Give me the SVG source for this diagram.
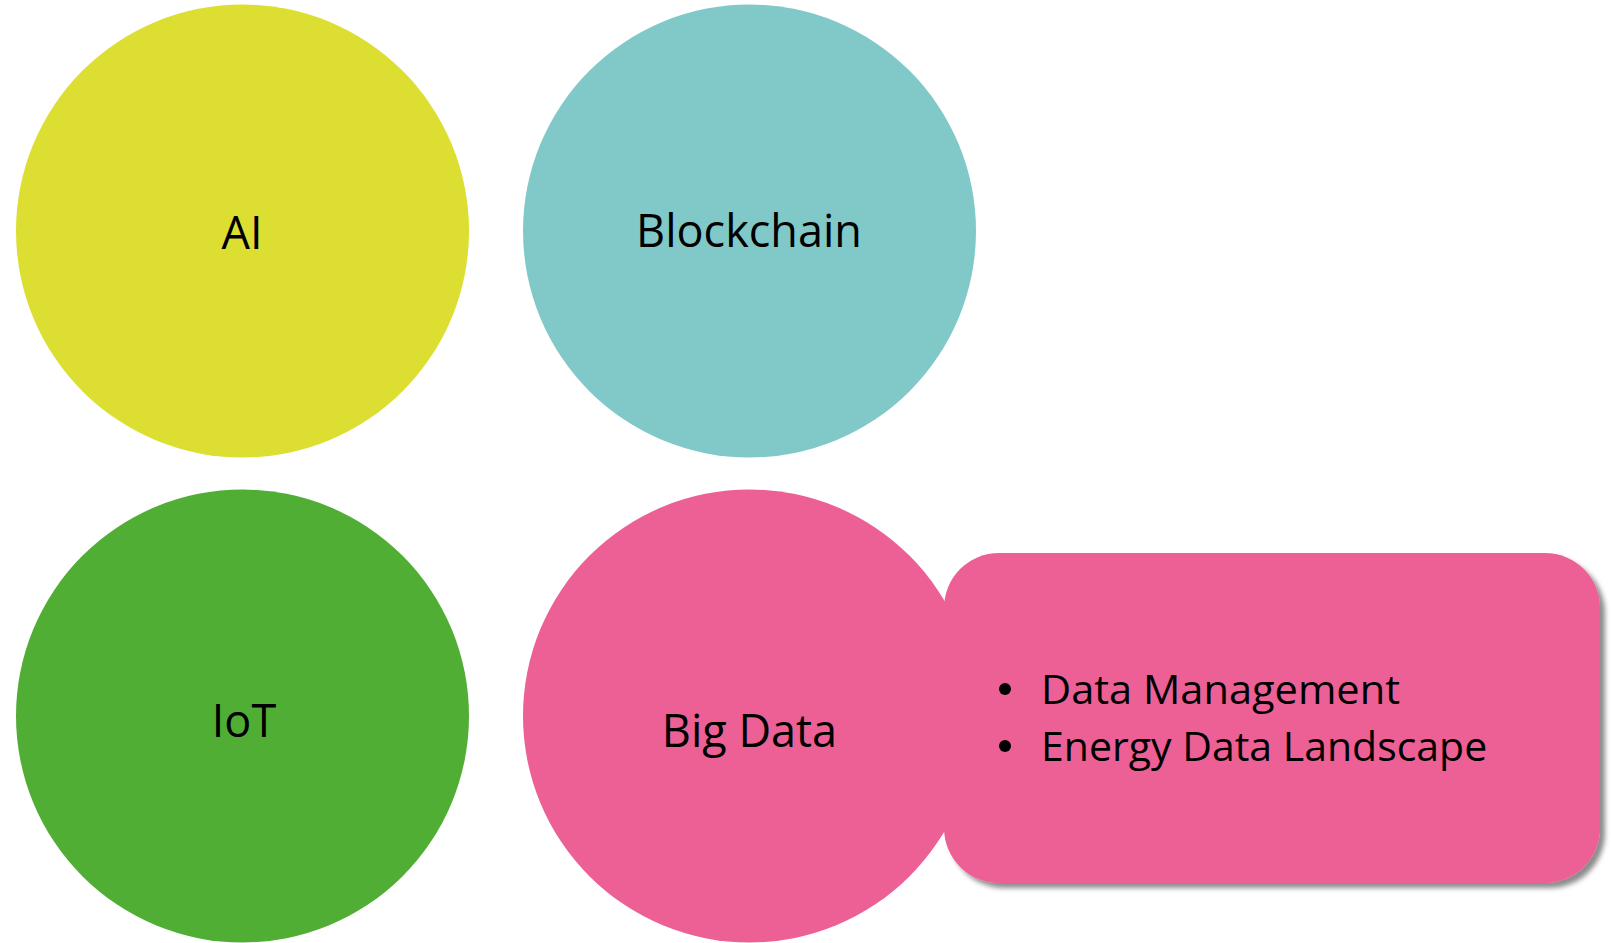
<svg xmlns="http://www.w3.org/2000/svg" width="1611" height="943" viewBox="0 0 1611 943">
  <defs>
    <filter id="shadow" x="-5%" y="-5%" width="115%" height="120%">
      <feDropShadow dx="5" dy="5" stdDeviation="2.5" flood-color="#000" flood-opacity="0.45"/>
    </filter>
  </defs>
  <style>
    .lbl { font-family: "Open Sans", "Liberation Sans", sans-serif; font-size: 45px; fill: #000; text-anchor: middle; }
    .bul { font-family: "Open Sans", "Liberation Sans", sans-serif; font-size: 41px; fill: #000; }
    .dot { fill: #000; }
    .pink { fill: #EC6096; }
  </style>
  <rect width="1611" height="943" fill="#fff"/>
  <g id="ai">
    <circle cx="242.5" cy="231" r="226.5" fill="#DCDE32"/>
    <text class="lbl" x="242" y="249">AI</text>
  </g>
  <g id="blockchain">
    <circle cx="749.5" cy="231" r="226.5" fill="#81C9C8"/>
    <text class="lbl" x="749" y="247">Blockchain</text>
  </g>
  <g id="iot">
    <circle cx="242.5" cy="716" r="226.5" fill="#51AE35"/>
    <text class="lbl" x="244" y="737">IoT</text>
  </g>
  <g id="bigdata">
    <circle class="pink" cx="749.5" cy="716" r="226.5"/>
    <text class="lbl" x="749.5" y="747">Big Data</text>
  </g>
  <g id="details">
    <rect class="pink" x="944" y="553" width="656" height="330" rx="55" ry="55" filter="url(#shadow)"/>
    <circle class="dot" cx="1005" cy="689" r="6"/>
    <text class="bul" x="1041" y="704" textLength="359" lengthAdjust="spacingAndGlyphs">Data Management</text>
    <circle class="dot" cx="1005" cy="746" r="6"/>
    <text class="bul" x="1041" y="761">Energy Data Landscape</text>
  </g>
  <g id="connectors"/>
</svg>
